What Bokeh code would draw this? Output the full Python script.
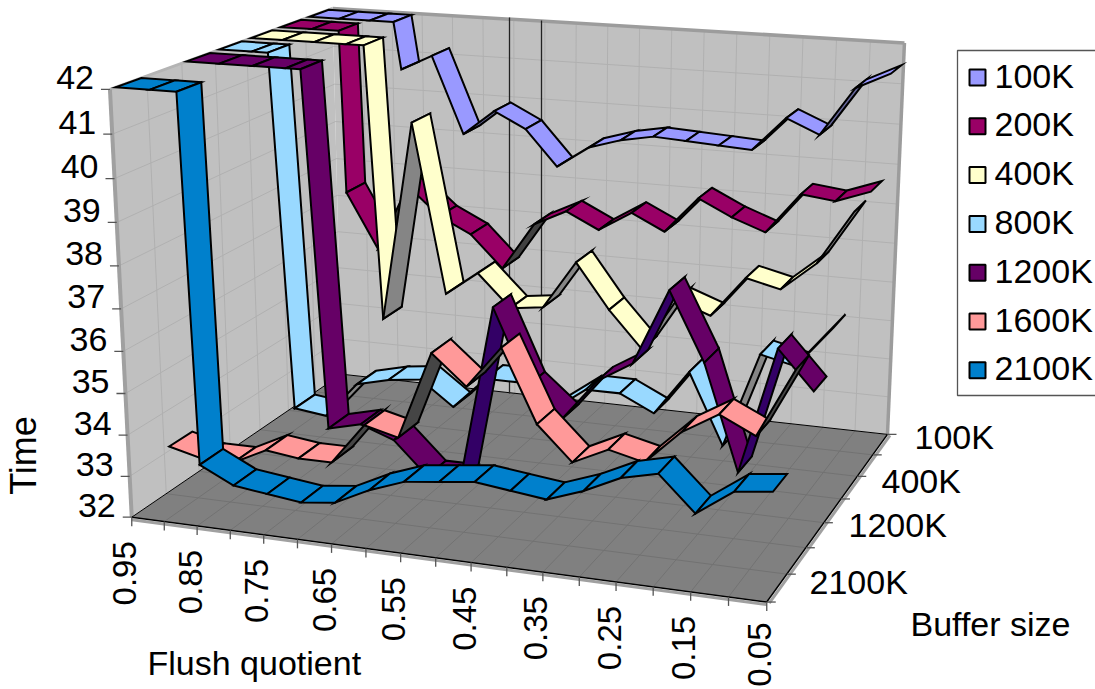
import numpy as np
from bokeh.plotting import figure
from bokeh.models import ColumnDataSource
from bokeh.core.properties import value
from bokeh.embed import file_html
from bokeh.resources import INLINE

# ---- data ----
flush_labels = ["0.95","0.85","0.75","0.65","0.55","0.45","0.35","0.25","0.15","0.05"]
buffer_names = ["100K","200K","400K","800K","1200K","1600K","2100K"]
buffer_ticks = ["100K","400K","1200K","2100K"]
time_ticks = [32,33,34,35,36,37,38,39,40,41,42]
s100K  = [46,46,46,40.8,41.2,39.25,39.9,39.5,38.6,39.15,39.4,39.55,39.5,39.45,39.4,40.25,39.9,41.1,41.5]
s200K  = [69,69,37.9,36.5,38.2,37.5,37.1,36.3,37.5,37.9,37.5,38.0,37.6,38.5,38.1,37.8,38.8,38.7,39.0]
s400K  = [50.3,50.3,50.3,50.3,35.2,40.2,36.0,36.6,35.8,35.9,37.1,36.0,35.1,36.4,36.1,37.1,36.9,37.6,38.9]
s800K  = [50.8,50.8,33.2,33.1,34.0,34.2,34.3,33.7,34.5,34.5,33.9,34.5,34.5,34.1,35.2,33.5,35.8,35.6,36.6]
s1200K = [48.75,48.75,48.75,48.75,33.4,33.6,33.3,32.5,32.5,36.8,35.0,34.3,35.3,35.8,37.6,36.0,33.5,36.5,35.6]
s1600K = [33.1,32.9,32.9,33.3,33.2,33.2,34.2,34.0,36.1,35.4,36.4,34.7,33.9,34.3,34.1,34.9,35.4,35.0,36.6]
s2100K = [72.5,72.5,33.4,33.0,32.9,32.8,32.9,33.3,33.6,33.7,33.8,33.7,33.6,33.9,34.3,34.5,33.7,34.3,34.4]
series = [s100K,s200K,s400K,s800K,s1200K,s1600K,s2100K]
top_colors  = ["#9999FF","#990066","#FFFFCC","#99D9FF","#660066","#FF9999","#0080CC"]
under_colors= ["#666699","#404040","#858585","#858585","#330066","#454545","#004080"]

# ---- projection of the 3-D box onto the page ----
corners = [((0,0,0),(130,518)),((1,0,0),(765,602)),((1,0,1),(887,433)),((0,0,1),(343,373)),
           ((0,1,0),(112,87)),((0,1,1),(329,9)),((1,1,1),(905,43))]
rows=[]
for (X,Y,Z),(sx,sy) in corners:
    rows.append([X,Y,Z,1,0,0,0,0,-sx*X,-sx*Y,-sx*Z,-sx])
    rows.append([0,0,0,0,X,Y,Z,1,-sy*X,-sy*Y,-sy*Z,-sy])
P=np.linalg.svd(np.array(rows,float))[2][-1].reshape(3,4)
def pr(u,val,t):
    q=P@np.array([u,(val-32)/10.0,t,1.0])
    return q[0]/q[2],q[1]/q[2]

p = figure(width=1095,height=689,x_range=(0,1095),y_range=(689,0),output_backend="svg",
           toolbar_location=None,min_border=0,outline_line_color=None,background_fill_color="white")
p.axis.visible=False
p.grid.visible=False
p.styles={"position":"absolute","left":"0","top":"0"}

def quad(pts,fill,lc=None,lw=0):
    xs=[a[0] for a in pts]; ys=[a[1] for a in pts]
    p.patch(xs,ys,fill_color=fill,line_color=lc,line_width=lw)
def seg(a,b,color,w):
    p.line([a[0],b[0]],[a[1],b[1]],line_color=color,line_width=w)

# walls and floor
WALL="#C0C0C0"; FLOOR="#808080"
quad([pr(0,32,0),pr(0,32,1),pr(0,42,1),pr(0,42,0)],WALL)
quad([pr(0,32,1),pr(1,32,1),pr(1,42,1),pr(0,42,1)],WALL)
quad([pr(0,32,0),pr(1,32,0),pr(1,32,1),pr(0,32,1)],FLOOR)
# gridlines
for v in time_ticks[1:-1]:
    seg(pr(0,v,0),pr(0,v,1),"#B0B0B0",1)
    seg(pr(0,v,1),pr(1,v,1),"#B0B0B0",1)
for j in range(1,18):
    seg(pr(j/18,32,1),pr(j/18,42,1),"#B0B0B0",1)
    seg(pr(j/18,32,0),pr(j/18,32,1),"#727272",1)
for k in range(1,7):
    seg(pr(0,32,k/7),pr(0,42,k/7),"#B0B0B0",1)
    seg(pr(0,32,k/7),pr(1,32,k/7),"#727272",1)
# frame
seg(pr(0,42,0),pr(0,42,1),"#B4B4B4",3)
seg(pr(0,42,1),pr(1,42,1),"#9C9C9C",3.5)
seg(pr(1,42,1),pr(1,32,1),"#9C9C9C",3.5)
seg(pr(0,42,0),pr(0,32,0),"#A0A0A0",4)
seg(pr(0,32,0),pr(0,32,1),"#000000",1)
seg(pr(0,32,1),pr(1,32,1),"#000000",1)
a,b,c=pr(0,32,0),pr(1,32,0),pr(1,32,1)
seg((a[0],a[1]+2.5),(b[0],b[1]+2.5),"#A0A0A0",3)
seg((b[0]+2.5,b[1]+1),(c[0]+2.5,c[1]+1),"#A0A0A0",3)
seg(a,b,"#000000",1.5)
seg(b,c,"#000000",1.5)
# the two dark verticals on the back wall
for px,top,bottom in ((509,17,393),(541,20,395)):
    p.line([px,px],[top,bottom],line_color="#222222",line_width=1.3)

# ribbons, back to front, left to right
xs,ys,fills=[],[],[]
def face(u0,v0,u1,v1,t0,t1,top,under):
    pts=[pr(u0,v0,t0),pr(u1,v1,t0),pr(u1,v1,t1),pr(u0,v0,t1)]
    qx=[q[0] for q in pts]; qy=[q[1] for q in pts]
    area=sum(qx[i]*qy[(i+1)%4]-qx[(i+1)%4]*qy[i] for i in range(4))
    xs.append(qx); ys.append(qy); fills.append(top if area<0 else under)
n=len(s100K)
for k,vals in enumerate(series):
    t0=0.021+0.143*(6-k); t1=t0+0.1
    for j in range(n-1):
        u0,u1=j/(n-1),(j+1)/(n-1)
        a,b=vals[j],vals[j+1]
        if a>=42 and b>=42:
            face(u0,42,u1,42,t0,t1,top_colors[k],under_colors[k])
        elif a>42 or b>42:
            f=(a-42)/(a-b)
            um=u0+f*(u1-u0)
            if a>42:
                face(u0,42,um,42,t0,t1,top_colors[k],under_colors[k])
                face(um,42,u1,b,t0,t1,top_colors[k],under_colors[k])
            else:
                face(u0,a,um,42,t0,t1,top_colors[k],under_colors[k])
                face(um,42,u1,42,t0,t1,top_colors[k],under_colors[k])
        else:
            face(u0,a,u1,b,t0,t1,top_colors[k],under_colors[k])
p.patches(xs="xs",ys="ys",fill_color="fill",line_color="black",line_width=2,line_join="miter",
          source=ColumnDataSource(dict(xs=xs,ys=ys,fill=fills)))

FONT=value("Liberation Sans")
def txt(x,y,s,align="left",base="middle",angle=0,size="34px"):
    p.text([x],[y],text=[s],text_font=FONT,text_font_size=value(size),text_align=align,text_baseline=base,
           angle=angle,text_color="black")

# time axis
for v in time_ticks:
    x,y=pr(0,v,0)
    seg((x-9,y),(x,y),"#555555",1.3)
    txt(x-8-8,y-12,str(v),align="right")
# flush axis
for j in range(n):
    x,y=pr(j/18,32,0)
    seg((x,y),(x,y+9),"#555555",1.3)
for i,s in enumerate(flush_labels):
    x,y=pr(i*2/18,32,0)
    txt(x-7,min(y+24,622),s,align="right",angle=np.pi/2,size="33px")
# buffer axis
for k in range(8):
    x,y=pr(1,32,k/7)
    seg((x,y),(x+9,y),"#555555",1.3)
for s,(x,y) in zip(buffer_ticks,((914,436),(881,480),(848,524),(809,581))):
    txt(x,y,s)
# axis titles
txt(23,455,"Time",align="center",angle=np.pi/2,size="36px")
txt(147,662,"Flush quotient")
txt(910,623,"Buffer size")
# legend
p.line([1095,957,957,1095],[50,50,395,395],line_color="#555555",line_width=1.3)
for i,(s,col) in enumerate(zip(buffer_names,top_colors)):
    yc=77+48.8*i
    p.patch([969,985,985,969],[yc-8,yc-8,yc+8,yc+8],fill_color=col,line_color="black",line_width=2)
    txt(994,yc-2,s)

open("out.html","w").write(file_html(p,INLINE))
